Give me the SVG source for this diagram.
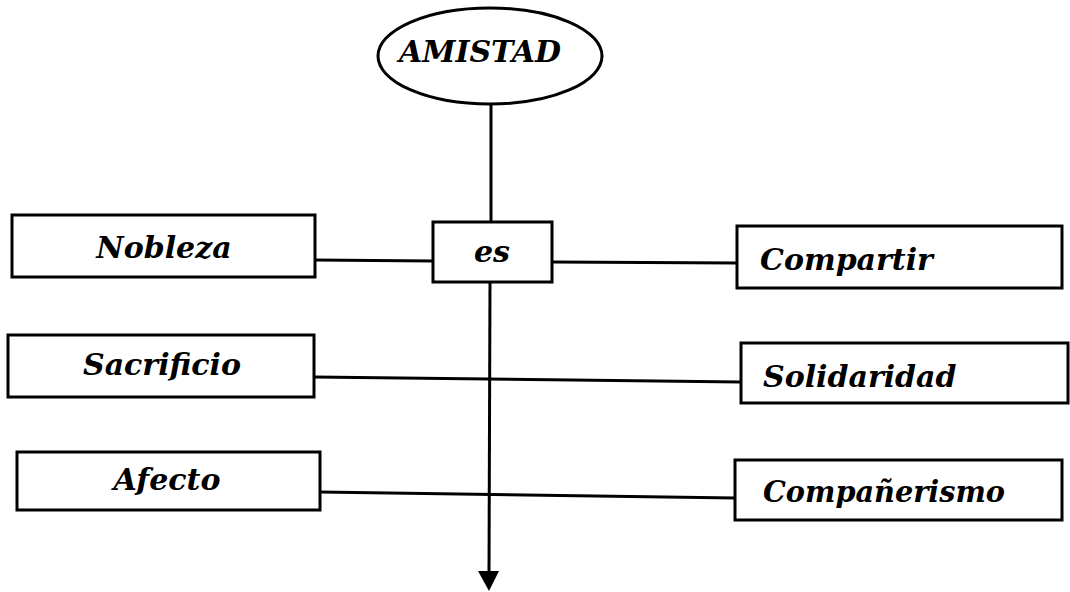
<svg xmlns="http://www.w3.org/2000/svg" width="1070" height="592" viewBox="0 0 1070 592">
<style>
.box{fill:#fff;stroke:#000;stroke-width:3}
.t{font-family:"DejaVu Serif","Liberation Serif",serif;font-style:italic;font-weight:bold;font-size:30px;fill:#000}
.c{text-anchor:middle}
.ln{stroke:#000;stroke-width:3;fill:none}
</style>
<rect width="1070" height="592" fill="#fff"/>
<g id="connectors">
<line class="ln" x1="491" y1="105" x2="491" y2="222"/>
<line class="ln" x1="490" y1="282" x2="489" y2="572"/>
<path d="M478,571 L499,571 L489,591 Z" fill="#000"/>
<line class="ln" x1="315" y1="260" x2="433" y2="261"/>
<line class="ln" x1="552" y1="262" x2="737" y2="263"/>
<line class="ln" x1="314" y1="377" x2="741" y2="382"/>
<line class="ln" x1="320" y1="492" x2="735" y2="498"/>
</g>
<g id="amistad">
<ellipse class="box" cx="490" cy="56" rx="112" ry="48"/>
<text class="t c" x="480" y="62">AMISTAD</text>
</g>
<g id="es">
<rect class="box" x="433" y="222" width="119" height="60"/>
<text class="t c" x="492" y="262">es</text>
</g>
<g id="nobleza">
<rect class="box" x="12" y="215" width="303" height="62"/>
<text class="t c" x="164" y="258">Nobleza</text>
</g>
<g id="sacrificio">
<rect class="box" x="8" y="335" width="306" height="62"/>
<text class="t c" x="162" y="375">Sacrificio</text>
</g>
<g id="afecto">
<rect class="box" x="17" y="452" width="303" height="58"/>
<text class="t c" x="167" y="490">Afecto</text>
</g>
<g id="compartir">
<rect class="box" x="737" y="226" width="325" height="62"/>
<text class="t" x="760" y="270">Compartir</text>
</g>
<g id="solidaridad">
<rect class="box" x="741" y="343" width="327" height="60"/>
<text class="t" x="763" y="387">Solidaridad</text>
</g>
<g id="companerismo">
<rect class="box" x="735" y="460" width="327" height="60"/>
<text class="t" x="763" y="502" textLength="242" lengthAdjust="spacingAndGlyphs">Compañerismo</text>
</g>
</svg>
